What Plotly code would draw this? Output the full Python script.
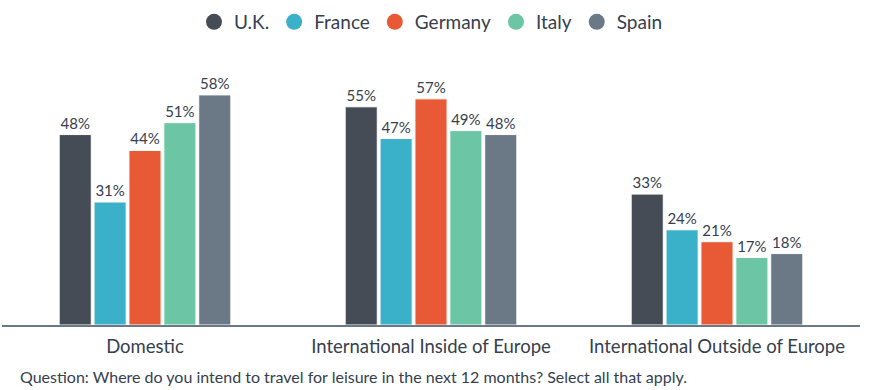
import plotly.graph_objects as go

categories = ["Domestic", "International Inside of Europe", "International Outside of Europe"]
countries = ["U.K.", "France", "Germany", "Italy", "Spain"]
uk = [48, 55, 33]
france = [31, 47, 24]
germany = [44, 57, 21]
italy = [51, 49, 17]
spain = [58, 48, 18]
series = [uk, france, germany, italy, spain]
colors = ["#454c56", "#3ab0c9", "#e85a35", "#6cc6a5", "#6b7885"]

font_fam = "Lato, 'Open Sans', sans-serif"
text_col = "#36404e"

fig = go.Figure()
for name, vals, c in zip(countries, series, colors):
    fig.add_trace(go.Bar(
        x=categories, y=vals, name=name, showlegend=False,
        marker=dict(color=c, line=dict(color="white", width=1)),
        text=[f"{v}%" for v in vals], textposition="outside",
        textfont=dict(size=15, color=text_col, family=font_fam),
        cliponaxis=False,
    ))
for name, c in zip(countries, colors):
    fig.add_trace(go.Scatter(
        x=[None], y=[None], mode="markers", name=name,
        marker=dict(color=c, size=16, symbol="circle"),
    ))

fig.update_layout(
    width=880, height=390,
    margin=dict(l=2, r=20, t=10, b=65, autoexpand=False),
    paper_bgcolor="white", plot_bgcolor="white",
    barmode="group", bargap=0.39, bargroupgap=0.08,
    font=dict(family=font_fam, color=text_col),
    legend=dict(orientation="h", x=0.5, xanchor="center", y=0.962, yanchor="middle",
                font=dict(size=19, color=text_col), itemwidth=30, bgcolor="rgba(0,0,0,0)"),
    xaxis=dict(showgrid=False, showline=True, linecolor="#6b7885", linewidth=2,
               ticks="", tickfont=dict(size=18.5, color=text_col), automargin=False,
               ticklabelstandoff=4),
    yaxis=dict(range=[0, 79.4], visible=False, automargin=False),
    annotations=[dict(
        text="Question: Where do you intend to travel for leisure in the next 12 months? Select all that apply.",
        xref="paper", yref="paper", x=0.0, y=-0.165, xanchor="left", yanchor="middle",
        xshift=16, showarrow=False, font=dict(size=16, color=text_col))],
)

fig.write_html("out.html", config={"displayModeBar": False},
               post_script="document.body.style.margin='0';")
